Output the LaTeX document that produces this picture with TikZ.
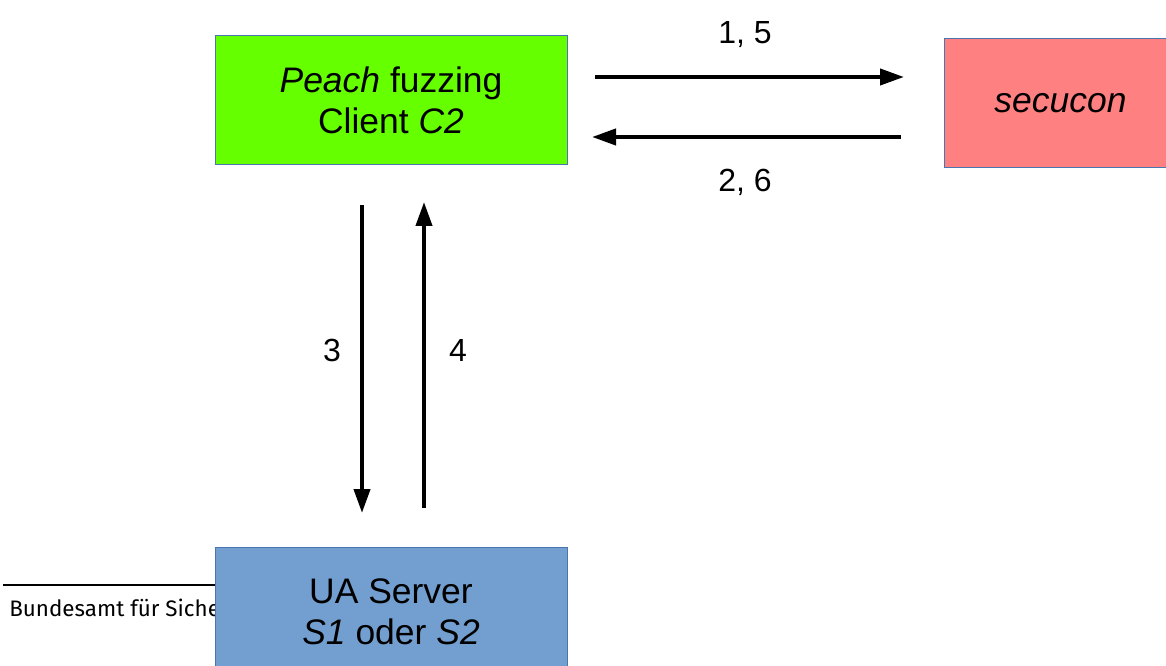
\documentclass[tikz,border=0pt]{standalone}
\usepackage{fontspec}
\setmainfont{Liberation Sans}
\newfontfamily\footfont{Fira Sans}
\usetikzlibrary{arrows.meta}
\definecolor{peachgreen}{HTML}{66FF00}
\definecolor{secured}{HTML}{FF8080}
\definecolor{serverblue}{HTML}{729FCF}
\definecolor{boxline}{HTML}{4A76B0}
\tikzset{
  box/.style={draw=boxline, line width=0.75pt, minimum width=264pt, minimum height=96.75pt,
    align=center, inner sep=0pt, font=\fontsize{26.6}{30.75}\selectfont},
  msg/.style={line width=3pt, -{Triangle[length=18pt,width=12pt]}},
  lbl/.style={inner sep=0.75pt, font=\fontsize{24}{28}\selectfont}
}
\begin{document}
\begin{tikzpicture}[x=0.75pt,y=0.75pt,yscale=-1,xscale=1]
    \useasboundingbox (0,0) rectangle (1166,666);
    \clip (0,0) rectangle (1166,666);

    % Footer rule and text
    \draw [line width=1.5pt] (3,585) -- (215,585) ;
    \node [anchor=base west, inner sep=0pt, font=\footfont\fontsize{16.8}{19}\selectfont] (footer) at (9,616) {Bundesamt für Siche};

    % Boxes
    \node [box, fill=peachgreen] (client) at (391,100.5) {\textit{Peach} fuzzing\\Client \textit{C2}};
    \node [box, fill=secured, minimum width=174.75pt] (secucon) at (1060.5,103.5) {\textit{secucon}};
    \node [box, fill=serverblue] (server) at (391,612) {UA Server\\\textit{S1} oder \textit{S2}};

    % Arrow ends
    \coordinate (reqs) at (595,77) ;
    \coordinate (reqe) at (904,77) ;
    \coordinate (resps) at (901,137) ;
    \coordinate (respe) at (592,137) ;
    \coordinate (downs) at (362,205) ;
    \coordinate (downe) at (362,513) ;
    \coordinate (ups) at (424,508) ;
    \coordinate (upe) at (424,202) ;

    % Arrows
    \draw [msg] (reqs) -- (reqe) ;
    \draw [msg] (resps) -- (respe) ;
    \draw [msg] (downs) -- (downe) ;
    \draw [msg] (ups) -- (upe) ;

    % Text Node
    \node [lbl] (l15) at (745,35) {1, 5};
    % Text Node
    \node [lbl] (l26) at (745,182) {2, 6};
    % Text Node
    \node [lbl] (l3) at (332,350) {3};
    % Text Node
    \node [lbl] (l4) at (458,350) {4};

\end{tikzpicture}
\end{document}
